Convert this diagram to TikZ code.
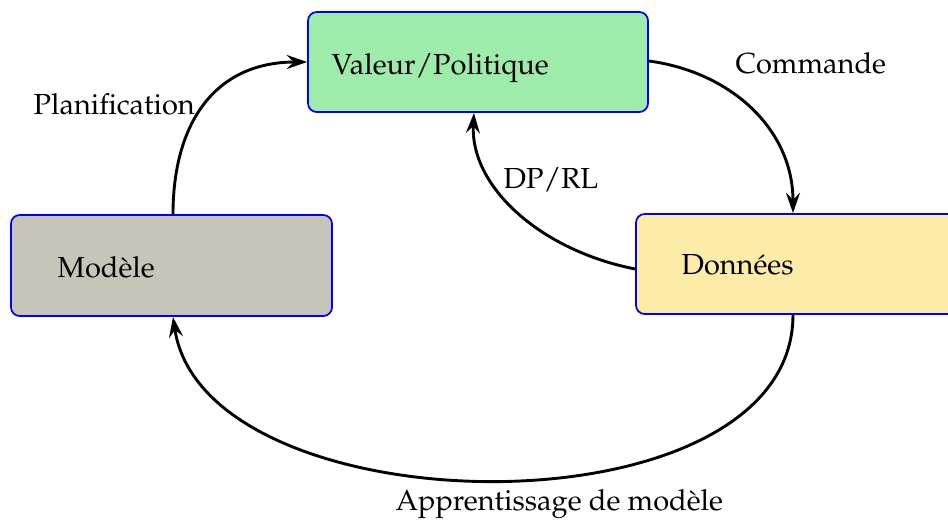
\documentclass[tikz,border=0pt]{standalone}
\usepackage[T1]{fontenc}
\usepackage{mathpazo}
\usetikzlibrary{arrows.meta,calc}
\definecolor{vgreen}{RGB}{158,236,170}
\definecolor{mgray}{RGB}{199,196,184}
\definecolor{dyellow}{RGB}{253,235,168}
\tikzset{
  boxstyle/.style={draw=blue, line width=0.6pt, rounded corners=3pt, inner sep=0pt},
  txt/.style={anchor=base west, inner sep=0pt, font=\fontsize{10}{12}\selectfont},
  conn/.style={line width=1pt, -{Stealth[length=7pt,width=4.8pt,inset=2.4pt]}}
}
\begin{document}
\begin{tikzpicture}[x=0.345pt,y=-0.345pt]
\useasboundingbox (0,0) rectangle (948,519);
% boxes
\node[boxstyle, fill=vgreen, minimum width=340*0.345pt, minimum height=100*0.345pt] (V) at (478,62) {};
\node[boxstyle, fill=mgray, minimum width=321*0.345pt, minimum height=101*0.345pt] (M) at (171.5,265.5) {};
\node[boxstyle, fill=dyellow, minimum width=330*0.345pt, minimum height=100*0.345pt] (D) at (801,264) {};
% box texts
\node[txt] (tV) at (331,74) {Valeur/Politique};
\node[txt] (tM) at (57,277) {Mod\`ele};
\node[txt] (tD) at (681,274) {Donn\'ees};
% edge labels
\node[txt] (lP) at (33,114) {Planification};
\node[txt] (lC) at (735,73) {Commande};
\node[txt] (lR) at (503,188) {DP/RL};
\node[txt] (lA) at (395,510) {Apprentissage de mod\`ele};
% connectors
\draw[conn] ($(M.north)+(1.5,0)$) .. controls +(0,-90) and +(-93,0) .. (V.west);
\draw[conn] ($(V.east)+(0,-1)$) .. controls +(82,11) and +(0,-84) .. ($(D.north)+(-8,0)$);
\draw[conn] ($(D.west)+(0,5)$) .. controls +(-96,-19) and +(-4,73) .. ($(V.south)+(-4,0)$);
\draw[conn] ($(D.south)+(-8,0)$) .. controls +(0,224) and +(32,214) .. ($(M.south)+(1.5,0)$);
\end{tikzpicture}
\end{document}
